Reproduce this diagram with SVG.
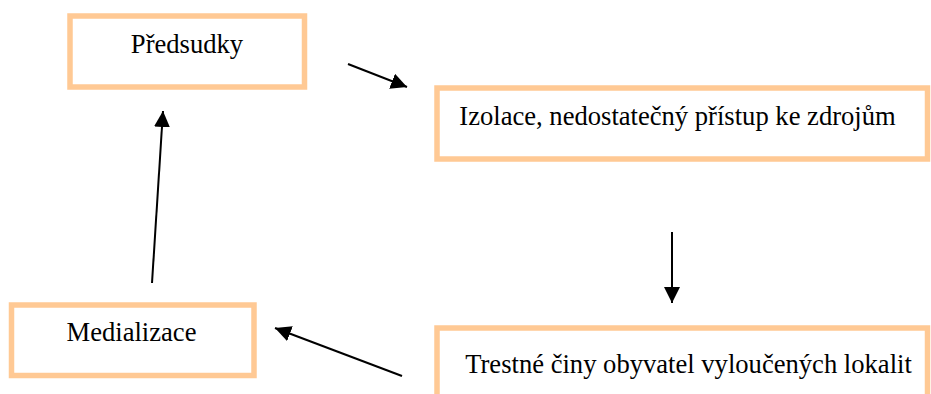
<svg xmlns="http://www.w3.org/2000/svg" width="931" height="394" viewBox="0 0 931 394">
<style>
.box{fill:#fff;stroke:#FFC994;stroke-width:5.5}
.lbl{font-family:"Liberation Serif","Times New Roman",serif;font-size:26.6px;fill:#000}
.edge{stroke:#000;stroke-width:2;fill:none;marker-end:url(#ah)}
</style>
<defs>
<marker id="ah" markerUnits="userSpaceOnUse" markerWidth="17" markerHeight="16" refX="16" refY="8" orient="auto">
<path d="M0,0 L16,8 L0,16 Z" fill="#000"/>
</marker>
</defs>
<rect width="931" height="394" fill="#fff"/>
<g id="predsudky">
<rect class="box" x="70" y="16" width="234.5" height="71"/>
<text class="lbl" x="187" y="53" text-anchor="middle">Předsudky</text>
</g>
<g id="izolace">
<rect class="box" x="437" y="88" width="490.5" height="71"/>
<text class="lbl" x="677.5" y="125" text-anchor="middle">Izolace, nedostatečný přístup ke zdrojům</text>
</g>
<g id="trestne">
<rect class="box" x="437" y="328" width="490.5" height="90"/>
<text class="lbl" x="688.5" y="373" text-anchor="middle">Trestné činy obyvatel vyloučených lokalit</text>
</g>
<g id="medializace">
<rect class="box" x="11.5" y="305" width="242.5" height="70.5"/>
<text class="lbl" x="131.5" y="341" text-anchor="middle">Medializace</text>
</g>
<g id="connectors">
<line class="edge" x1="348" y1="64" x2="407" y2="87"/>
<line class="edge" x1="672" y1="232" x2="672" y2="303"/>
<line class="edge" x1="402" y1="376" x2="275" y2="328"/>
<line class="edge" x1="152" y1="283" x2="163" y2="111"/>
</g>
</svg>
